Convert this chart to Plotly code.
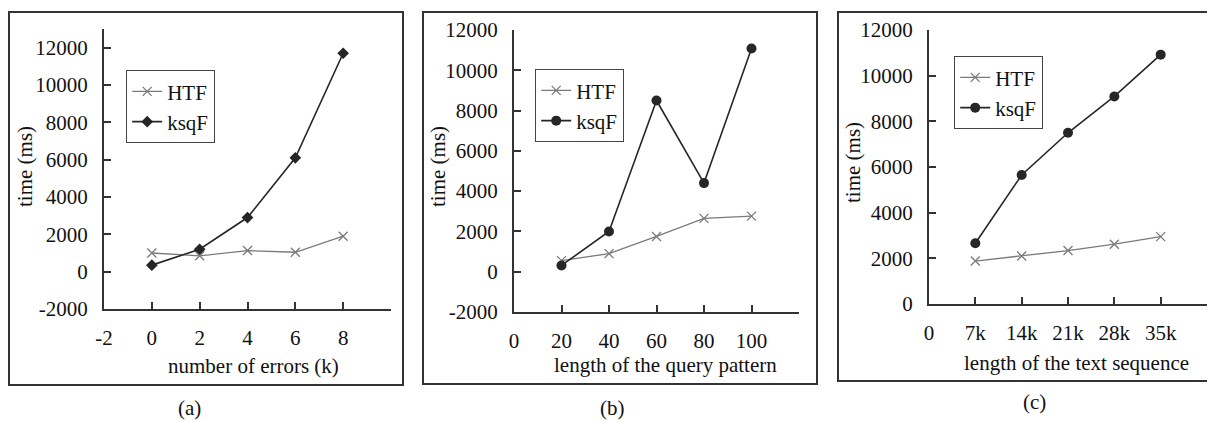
import plotly.graph_objects as go

# page body has an 8px margin; the figure is sized to fill the rest of the window
OFF = 8
W, H = 1215 - OFF, 421 - OFF

# ---- data ----
errors_k = [0, 2, 4, 6, 8]
htf_a = [1000, 850, 1130, 1040, 1900]
ksqf_a = [350, 1200, 2900, 6100, 11700]

pattern_len = [20, 40, 60, 80, 100]
htf_b = [550, 900, 1750, 2650, 2760]
ksqf_b = [310, 2000, 8500, 4400, 11080]

text_len = [7, 14, 21, 28, 35]
text_len_labels = ["7k", "14k", "21k", "28k", "35k"]
htf_c = [1880, 2100, 2340, 2620, 2950]
ksqf_c = [2660, 5650, 7500, 9090, 10920]

y_ticks_a = [-2000, 0, 2000, 4000, 6000, 8000, 10000, 12000]
y_ticks_b = [-2000, 0, 2000, 4000, 6000, 8000, 10000, 12000]
y_ticks_c = [0, 2000, 4000, 6000, 8000, 10000, 12000]
x_ticks_a = [-2, 0, 2, 4, 6, 8, 10]
x_ticks_b = [0, 20, 40, 60, 80, 100, 120]
x_ticks_c = [0, 7, 14, 21, 28, 35, 42]

FONT = "Liberation Serif, Times New Roman, serif"
FS = 21
GRAY = "#7a7a7a"
DARK = "#262626"
AXC = "#333333"


def px(x):
    return (x - OFF) / W


def py(y):
    return 1 - (y - OFF) / H


fig = go.Figure()

panels = [
    dict(n="", x=errors_k, h=htf_a, k=ksqf_a, sym="diamond", ksize=9,
         xd=(104, 391), yd=(29, 309), xr=[-2, 10], yr=[-2000, 13000],
         xt=x_ticks_a, xtt=[str(v) for v in x_ticks_a[:-1]] + [""],
         yt=y_ticks_a, leg=(126, 70)),
    dict(n="2", x=pattern_len, h=htf_b, k=ksqf_b, sym="circle", ksize=10,
         xd=(514, 799), yd=(30, 312), xr=[0, 120], yr=[-2000, 12000],
         xt=x_ticks_b, xtt=[str(v) for v in x_ticks_b[:-1]] + [""],
         yt=y_ticks_b, leg=(535, 69)),
    dict(n="3", x=text_len, h=htf_c, k=ksqf_c, sym="circle", ksize=10,
         xd=(929, 1207), yd=(30, 304), xr=[0, 42], yr=[0, 12000],
         xt=x_ticks_c, xtt=["0"] + text_len_labels + [""],
         yt=y_ticks_c, leg=(954, 56)),
]

layout = {}
for p in panels:
    n = p["n"]
    xa = "x" + n
    ya = "y" + n
    legname = "legend" + n
    fig.add_trace(go.Scatter(
        x=p["x"], y=p["h"], name="HTF", mode="lines+markers",
        line=dict(color=GRAY, width=1.3),
        marker=dict(symbol="x-thin", size=9, line=dict(color=GRAY, width=1.3)),
        xaxis=xa, yaxis=ya, legend=legname))
    fig.add_trace(go.Scatter(
        x=p["x"], y=p["k"], name="ksqF", mode="lines+markers",
        line=dict(color=DARK, width=1.6),
        marker=dict(symbol=p["sym"], size=p["ksize"], color=DARK),
        xaxis=xa, yaxis=ya, legend=legname))

    common = dict(showgrid=False, zeroline=False, showline=True, linecolor=AXC,
                  linewidth=2, ticks="inside", ticklen=7, tickcolor=AXC, tickwidth=1.5,
                  automargin=False,
                  tickfont=dict(family=FONT, size=FS, color="#111"))
    layout["xaxis" + n] = dict(
        domain=[px(p["xd"][0]), px(p["xd"][1])], range=p["xr"],
        tickmode="array", tickvals=p["xt"], ticktext=p["xtt"],
        anchor=ya, ticklabelstandoff=9, **common)
    layout["yaxis" + n] = dict(
        domain=[py(p["yd"][1]), py(p["yd"][0])], range=p["yr"],
        tickmode="array", tickvals=p["yt"], ticktext=[str(v) for v in p["yt"]],
        anchor=xa, ticklabelstandoff=10, **common)
    layout[legname] = dict(
        x=px(p["leg"][0]), y=py(p["leg"][1]), xanchor="left", yanchor="top",
        bordercolor="#444", borderwidth=1.2, bgcolor="white",
        font=dict(family=FONT, size=FS, color="#111"),
        itemwidth=30, tracegroupgap=0)

fig.update_layout(**layout)

# panel frames
boxes = [(9, 12, 403, 385), (423, 12, 817, 384), (838, 12, 1222, 381)]
for x0, y0, x1, y1 in boxes:
    fig.add_shape(type="rect", xref="paper", yref="paper",
                  x0=px(x0), y0=py(y1), x1=px(x1), y1=py(y0),
                  line=dict(color="#333", width=2))

# axis titles and captions
anns = [
    ("number of errors (k)", 253, 366, 0),
    ("length of the query pattern", 665, 365, 0),
    ("length of the text sequence", 1076, 363, 0),
    ("time (ms)", 25, 167, -90),
    ("time (ms)", 438, 167, -90),
    ("time (ms)", 853, 163, -90),
    ("(a)", 189, 408, 0),
    ("(b)", 612, 408, 0),
    ("(c)", 1034, 402, 0),
]
for text, x, y, ang in anns:
    fig.add_annotation(text=text, x=px(x), y=py(y), xref="paper", yref="paper",
                       showarrow=False, textangle=ang, xanchor="center", yanchor="middle",
                       font=dict(family=FONT, size=FS, color="#111"))

fig.update_layout(
    template="none",
    width=W, height=H, margin=dict(l=0, r=0, t=0, b=0, pad=0),
    paper_bgcolor="white", plot_bgcolor="white",
)

fig.write_html("out.html")
